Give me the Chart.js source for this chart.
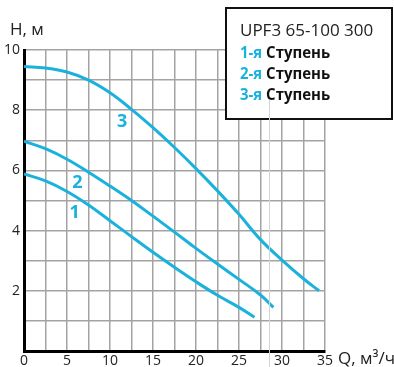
<!DOCTYPE html>
<html>
<head>
<meta charset="utf-8">
<script src="https://cdn.jsdelivr.net/npm/chart.js@4/dist/chart.umd.min.js"></script>
<style>
html,body{margin:0;padding:0;background:#fff;}
#wrap{width:394px;height:367px;position:relative;}
</style>
</head>
<body>
<div id="wrap"><canvas id="c" width="394" height="367"></canvas></div>
<script>
// ---- data ----
const seriesNames = ["1", "2", "3"];
const q1 = [0, 2.5, 5, 7.5, 10, 12.5, 15, 17.5, 20, 22.5, 25, 26.8];
const h1 = [5.88, 5.65, 5.3, 4.85, 4.33, 3.8, 3.28, 2.78, 2.3, 1.85, 1.45, 1.12];
const q2 = [0, 2.5, 5, 7.5, 10, 12.5, 15, 17.5, 20, 22.5, 25, 27.5, 29];
const h2 = [6.97, 6.72, 6.37, 5.94, 5.48, 5.0, 4.48, 3.95, 3.41, 2.89, 2.38, 1.86, 1.45];
const q3 = [0, 2.5, 5, 7.5, 10, 12.5, 15, 17.5, 20, 22.5, 25, 27.5, 30, 32.5, 34.3];
const h3 = [9.45, 9.4, 9.27, 9.0, 8.58, 8.03, 7.42, 6.76, 6.06, 5.32, 4.54, 3.7, 3.02, 2.4, 2.0];
const xTicks = [0, 5, 10, 15, 20, 25, 30, 35];
const yTicks = [2, 4, 6, 8, 10];
const legendTitle = "UPF3 65-100 300";
const legendItems = [["1-я", "Ступень"], ["2-я", "Ступень"], ["3-я", "Ступень"]];
const yTitle = "H, м";
const xTitle = "Q, м³/ч";
const markerQ = 28.5; // faint vertical line seen in the reference

const CYAN = "#1ab2dc";
const FONT = "'Open Sans', 'Noto Sans', sans-serif";

function pts(q, h) { return q.map((v, i) => ({x: v, y: h[i]})); }

const mkDs = (q, h) => ({
  data: pts(q, h), borderColor: CYAN, borderWidth: 3, pointRadius: 0,
  tension: 0.4, fill: false, borderCapStyle: 'butt'
});

const overlay = {
  id: 'overlay',
  afterDraw(chart) {
    const ctx = chart.ctx, xs = chart.scales.x, ys = chart.scales.y;
    ctx.save();
    // curve labels
    ctx.fillStyle = CYAN;
    ctx.font = "bold 18px " + FONT;
    ctx.textAlign = 'center'; ctx.textBaseline = 'middle';
    const labelAt = [[5.9, 4.6], [6.2, 5.6], [11.4, 7.6]];
    seriesNames.forEach((n, i) => {
      ctx.fillText(n, xs.getPixelForValue(labelAt[i][0]), ys.getPixelForValue(labelAt[i][1]));
    });
    // axis titles
    ctx.fillStyle = '#222';
    ctx.font = "17px " + FONT;
    ctx.textAlign = 'left'; ctx.textBaseline = 'alphabetic';
    ctx.fillText(yTitle, 10, 35);
    ctx.fillText(xTitle, 338, 364);
    // legend box
    ctx.fillStyle = '#fff';
    ctx.fillRect(226, 8, 167, 111);
    ctx.strokeStyle = '#111'; ctx.lineWidth = 2;
    ctx.strokeRect(226, 8, 166, 111);
    ctx.fillStyle = '#222';
    ctx.font = "17px " + FONT;
    ctx.fillText(legendTitle, 240, 36);
    ctx.font = "bold 16px " + FONT;
    const targetW = 64, sx = targetW / ctx.measureText(legendItems[0][1]).width;
    legendItems.forEach((it, i) => {
      const y = 57.5 + i * 21.3;
      ctx.save();
      ctx.translate(240, y);
      ctx.scale(sx, 1);
      ctx.fillStyle = CYAN;
      ctx.fillText(it[0], 0, 0);
      const w = ctx.measureText(it[0] + " ").width;
      ctx.fillStyle = '#111';
      ctx.fillText(it[1], w, 0);
      ctx.restore();
    });
    // faint vertical line
    const mx = Math.round(xs.getPixelForValue(markerQ)) + 0.5;
    ctx.strokeStyle = '#d4d4d4'; ctx.lineWidth = 1;
    ctx.beginPath(); ctx.moveTo(mx, 100); ctx.lineTo(mx, 367); ctx.stroke();
    ctx.restore();
  }
};

new Chart(document.getElementById('c'), {
  type: 'line',
  data: { datasets: [mkDs(q1, h1), mkDs(q2, h2), mkDs(q3, h3)] },
  options: {
    responsive: false, animation: false, devicePixelRatio: 1,
    layout: { padding: { top: 50, right: 69, left: 0, bottom: 0 } },
    plugins: { legend: { display: false }, tooltip: { enabled: false } },
    scales: {
      x: {
        type: 'linear', min: 0, max: 35,
        afterFit(a) { a.height = 16; },
        afterBuildTicks(a) { const t = []; for (let v = 0; v <= 35; v += 2.5) t.push({value: v}); a.ticks = t; },
        ticks: {
          autoSkip: false, maxRotation: 0, padding: 2, color: '#222',
          font: { family: FONT, size: 14 },
          callback: v => xTicks.includes(v) ? String(v) : ''
        },
        grid: { color: '#a3a3a3', lineWidth: 1.5, drawTicks: false },
        border: { color: '#000', width: 3 }
      },
      y: {
        type: 'linear', min: 0, max: 10,
        afterFit(a) { a.width = 24; },
        afterBuildTicks(a) { const t = []; for (let v = 0; v <= 10; v += 1) t.push({value: v}); a.ticks = t; },
        ticks: {
          autoSkip: false, padding: 4, color: '#222',
          font: { family: FONT, size: 14 },
          callback: v => yTicks.includes(v) ? String(v) : ''
        },
        grid: { color: '#a3a3a3', lineWidth: 1.5, drawTicks: false },
        border: { color: '#000', width: 3 }
      }
    }
  },
  plugins: [overlay]
});
</script>
</body>
</html>
